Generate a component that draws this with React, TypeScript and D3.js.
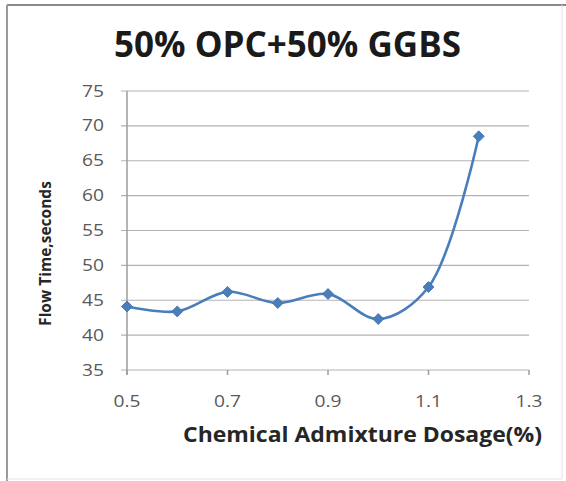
import React from "react";
import * as d3 from "d3";

const dosage = [0.5, 0.6, 0.7, 0.8, 0.9, 1.0, 1.1, 1.2];
const flowTime = [44.1, 43.4, 46.2, 44.6, 45.9, 42.3, 46.9, 68.5];
const xTicks = [0.5, 0.7, 0.9, 1.1, 1.3];
const yTicks = [35, 40, 45, 50, 55, 60, 65, 70, 75];

const W = 566;
const H = 481;

export default function App() {
  const x = d3.scaleLinear().domain([0.5, 1.3]).range([127, 529]);
  const y = d3.scaleLinear().domain([35, 75]).range([370, 91]);
  const pts: [number, number][] = dosage.map((d, i) => [x(d), y(flowTime[i])]);
  const line = d3.line().curve(d3.curveCatmullRom.alpha(0.5))(pts) || "";
  const font = "'Open Sans', 'DejaVu Sans', sans-serif";
  const sx = 1.2;
  return (
    <svg width={W} height={H} style={{ position: "absolute", left: 0, top: 0 }}>
      <rect x={0} y={0} width={W} height={H} fill="#fff" />
      {/* chart frame */}
      <line x1={7} y1={5} x2={W} y2={5} stroke="#8a8a8a" strokeWidth={2} />
      <line x1={7} y1={5} x2={7} y2={H} stroke="#9a9a9a" strokeWidth={2} />
      <line x1={562} y1={5} x2={562} y2={479} stroke="#e4e4e4" strokeWidth={1} />
      <line x1={7} y1={479} x2={562} y2={479} stroke="#e4e4e4" strokeWidth={1} />
      <text x={287.5} y={57} textAnchor="middle" fontFamily={font} fontWeight={700} fontSize={35} fill="#1a1a1a">
        50% OPC+50% GGBS
      </text>
      {/* gridlines */}
      {yTicks.map((t) => (
        <line key={"g" + t} x1={121} x2={529} y1={y(t)} y2={y(t)} stroke="#b3b3b3" strokeWidth={1.2} />
      ))}
      {/* y axis */}
      <line x1={127} x2={127} y1={y(75)} y2={y(35) + 5} stroke="#9c9c9c" strokeWidth={1.5} />
      {/* x ticks */}
      {xTicks.map((t) => (
        <line key={"xt" + t} x1={x(t)} x2={x(t)} y1={y(35)} y2={y(35) + 5} stroke="#9c9c9c" strokeWidth={1.5} />
      ))}
      {yTicks.map((t) => (
        <text
          key={"yl" + t}
          transform={`translate(104,${y(t) + 5.5}) scale(${sx},1)`}
          textAnchor="end"
          fontFamily={font}
          fontSize={16}
          fill="#595959"
        >
          {t}
        </text>
      ))}
      {xTicks.map((t) => (
        <text
          key={"xl" + t}
          transform={`translate(${x(t)},407) scale(${sx},1)`}
          textAnchor="middle"
          fontFamily={font}
          fontSize={16}
          fill="#595959"
        >
          {t.toFixed(1)}
        </text>
      ))}
      <text
        x={362.5}
        y={442}
        textAnchor="middle"
        fontFamily={font}
        fontWeight={700}
        fontSize={20.5}
        fill="#262626"
        textLength={359}
        lengthAdjust="spacingAndGlyphs"
      >
        Chemical Admixture Dosage(%)
      </text>
      <text
        transform={`translate(51,253.5) rotate(-90)`}
        textAnchor="middle"
        fontFamily={font}
        fontWeight={700}
        fontSize={15.5}
        fill="#262626"
      >
        Flow Time,seconds
      </text>
      <path d={line} fill="none" stroke="#4a7ebb" strokeWidth={2.6} strokeLinejoin="round" />
      {pts.map(([px, py], i) => (
        <path
          key={"m" + i}
          d={`M${px},${py - 5.5}L${px + 5.5},${py}L${px},${py + 5.5}L${px - 5.5},${py}Z`}
          fill="#4a7ebb"
          stroke="#3d6fa8"
          strokeWidth={0.8}
        />
      ))}
    </svg>
  );
}
